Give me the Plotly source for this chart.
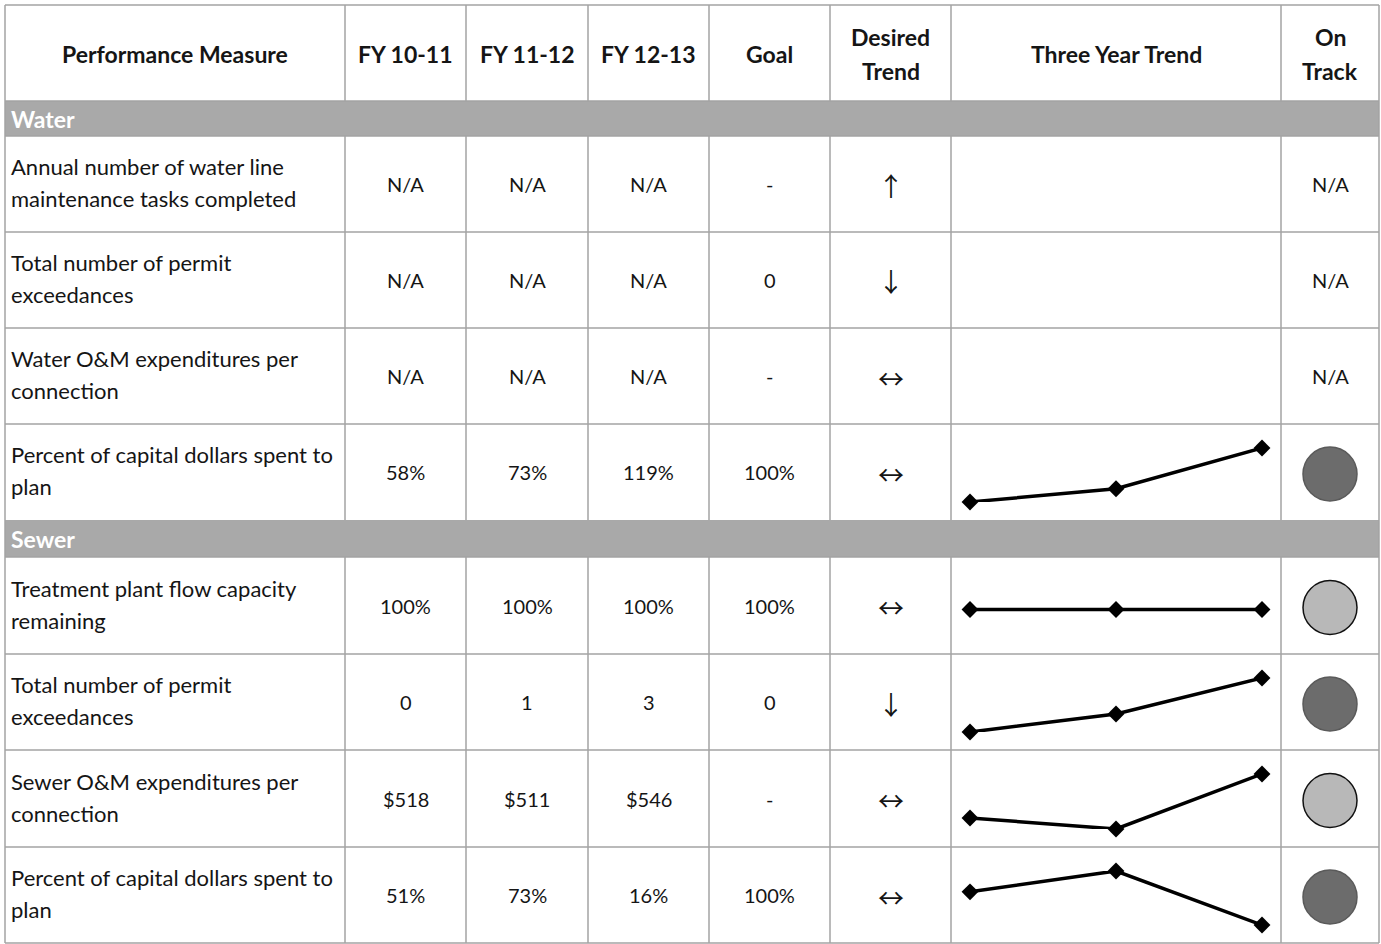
import plotly.graph_objects as go

# ---------------- data ----------------
headers = ["Performance Measure", "FY 10-11", "FY 11-12", "FY 12-13", "Goal",
           "Desired|Trend", "Three Year Trend", "On|Track"]
sections = ["Water", "Sewer"]
row_section = ["Water", "Water", "Water", "Water", "Sewer", "Sewer", "Sewer", "Sewer"]
measures = [
    "Annual number of water line|maintenance tasks completed",
    "Total number of permit|exceedances",
    "Water O&M expenditures per|connection",
    "Percent of capital dollars spent to|plan",
    "Treatment plant flow capacity|remaining",
    "Total number of permit|exceedances",
    "Sewer O&M expenditures per|connection",
    "Percent of capital dollars spent to|plan",
]
fy1011 = ["N/A", "N/A", "N/A", "58%", "100%", "0", "$518", "51%"]
fy1112 = ["N/A", "N/A", "N/A", "73%", "100%", "1", "$511", "73%"]
fy1213 = ["N/A", "N/A", "N/A", "119%", "100%", "3", "$546", "16%"]
goal = ["-", "0", "-", "100%", "100%", "0", "-", "100%"]
desired = ["↑", "↓", "↔", "↔", "↔", "↓", "↔", "↔"]
trend_fy1011 = [None, None, None, 58, 100, 0, 518, 51]
trend_fy1112 = [None, None, None, 73, 100, 1, 511, 73]
trend_fy1213 = [None, None, None, 119, 100, 3, 546, 16]
on_track = ["N/A", "N/A", "N/A", "Off", "On", "Off", "On", "Off"]

# ---------------- layout constants ----------------
W, H = 1381, 944
col_edges = [5, 345, 466, 588, 709, 830, 951, 1281, 1379]
header_top, header_bot = 5, 101
band_rows = {"Water": (101, 136), "Sewer": (520, 557)}
row_edges = [(136, 232), (232, 328), (328, 424), (424, 520),
             (557, 654), (654, 750), (750, 847), (847, 943)]
GRID = "#a3a3a3"
BAND = "#a9a9a9"
FONT = "Lato"
FS_LABEL = 22
FS_VAL = 20
FS_HEAD = 23
TXT = "#151515"
status_fill = {"Off": "#6c6c6c", "On": "#b8b8b8"}
status_line = {"Off": "#5a5a5a", "On": "#111111"}

def px(x):
    return x / W

def py(y):
    return 1 - y / H

fig = go.Figure()
shapes = []
annotations = []

def text(x, y, s, bold=False, anchor="center", color=TXT, size=FS_VAL, family=FONT):
    annotations.append(dict(
        x=px(x), y=py(y), xref="paper", yref="paper",
        text=("<b>%s</b>" % s) if bold else s, showarrow=False,
        xanchor=anchor, yanchor="middle",
        font=dict(family=family, size=size, color=color)))

def two_lines(x, yc, s, bold=False, anchor="center", gap=32, size=FS_VAL, dy=0):
    parts = s.split("|")
    if len(parts) == 1:
        text(x, yc, parts[0], bold, anchor, size=size)
    else:
        text(x, yc - gap / 2 + dy, parts[0], bold, anchor, size=size)
        text(x, yc + gap / 2 + dy, parts[1], bold, anchor, size=size)

# header
for i, h in enumerate(headers):
    cx = (col_edges[i] + col_edges[i + 1]) / 2
    two_lines(cx, (header_top + header_bot) / 2 + 1, h, bold=True, gap=34, size=FS_HEAD)

# section bands
for s in sections:
    y0, y1 = band_rows[s]
    shapes.append(dict(type="rect", xref="paper", yref="paper",
                       x0=px(col_edges[0]), x1=px(col_edges[-1]),
                       y0=py(y1), y1=py(y0), fillcolor=BAND, line=dict(width=0),
                       layer="below"))
    text(col_edges[0] + 4, (y0 + y1) / 2, s, bold=True, anchor="left",
         color="white", size=FS_HEAD)

# grid lines: horizontals
hlines = [header_top, header_bot] + [r[0] for r in row_edges] + [row_edges[-1][1]]
for y in sorted(set(hlines)):
    shapes.append(dict(type="line", xref="paper", yref="paper",
                       x0=px(col_edges[0]), x1=px(col_edges[-1]), y0=py(y), y1=py(y),
                       line=dict(color=GRID, width=1.5)))
# verticals (skip section bands)
segments = [(header_top, header_bot), (row_edges[0][0], row_edges[3][1]),
            (row_edges[4][0], row_edges[7][1])]
for x in col_edges:
    for (a, b) in segments:
        shapes.append(dict(type="line", xref="paper", yref="paper",
                           x0=px(x), x1=px(x), y0=py(a), y1=py(b),
                           line=dict(color=GRID, width=1.5)))
for x in (col_edges[0], col_edges[-1]):
    for s in sections:
        a, b = band_rows[s]
        shapes.append(dict(type="line", xref="paper", yref="paper",
                           x0=px(x), x1=px(x), y0=py(a), y1=py(b),
                           line=dict(color=GRID, width=1.5)))

# body text
for r, (y0, y1) in enumerate(row_edges):
    yc = (y0 + y1) / 2
    two_lines(col_edges[0] + 4, yc, measures[r], anchor="left", gap=32,
              size=FS_LABEL, dy=-1.5)
    for c, col in enumerate([fy1011, fy1112, fy1213, goal], start=1):
        cx = (col_edges[c] + col_edges[c + 1]) / 2
        text(cx, yc, col[r], size=FS_VAL)
    text((col_edges[5] + col_edges[6]) / 2, yc + 1, desired[r], size=26,
         family="Noto Sans CJK SC")
    if on_track[r] == "N/A":
        text((col_edges[7] + col_edges[8]) / 2, yc, "N/A", size=FS_VAL)

# sparklines
n = 0
for r, (y0, y1) in enumerate(row_edges):
    vals = [trend_fy1011[r], trend_fy1112[r], trend_fy1213[r]]
    if vals[0] is None:
        continue
    n += 1
    xa = "x%d" % n
    ya = "y%d" % n
    lo, hi = min(vals), max(vals)
    if hi == lo:
        rng = [lo - 1, hi + 1]
        yc = (y0 + y1) / 2 + 4
        dom = [py(yc + 20), py(yc - 20)]
    else:
        rng = [lo, hi]
        dom = [py(y1 - 18), py(y0 + 24)]
    fig.add_trace(go.Scatter(
        x=[0, 1, 2], y=vals, mode="lines+markers", xaxis=xa, yaxis=ya,
        line=dict(color="black", width=3.5),
        marker=dict(symbol="diamond", size=13, color="black"),
        cliponaxis=False, showlegend=False, hoverinfo="skip"))
    fig.layout["xaxis%d" % n if n > 1 else "xaxis"] = dict(
        domain=[px(col_edges[6] + 19), px(col_edges[7] - 19)], range=[0, 2],
        visible=False, anchor=ya, fixedrange=True)
    fig.layout["yaxis%d" % n if n > 1 else "yaxis"] = dict(
        domain=dom, range=rng, visible=False, anchor=xa, fixedrange=True)

# on-track circles
n += 1
cx_list, cy_list, fills, lines = [], [], [], []
for r, (y0, y1) in enumerate(row_edges):
    if on_track[r] in status_fill:
        cx_list.append((col_edges[7] + col_edges[8]) / 2)
        cy_list.append((y0 + y1) / 2 + 2)
        fills.append(status_fill[on_track[r]])
        lines.append(status_line[on_track[r]])
fig.add_trace(go.Scatter(
    x=cx_list, y=cy_list, mode="markers", xaxis="x%d" % n, yaxis="y%d" % n,
    marker=dict(size=54, color=fills, line=dict(color=lines, width=1.5)),
    cliponaxis=False, showlegend=False, hoverinfo="skip"))
fig.layout["xaxis%d" % n] = dict(domain=[0, 1], range=[0, W], visible=False,
                                  anchor="y%d" % n, fixedrange=True)
fig.layout["yaxis%d" % n] = dict(domain=[0, 1], range=[H, 0], visible=False,
                                  anchor="x%d" % n, fixedrange=True)

fig.update_layout(
    width=W, height=H, margin=dict(l=0, r=0, t=0, b=0),
    paper_bgcolor="white", plot_bgcolor="rgba(0,0,0,0)",
    shapes=shapes, annotations=annotations, showlegend=False)

fig.write_html("out.html", config={"displayModeBar": False})
